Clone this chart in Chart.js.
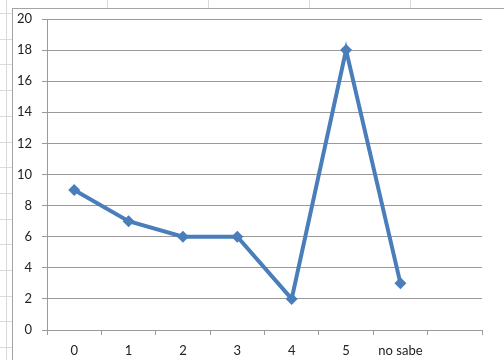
<!DOCTYPE html>
<html>
<head>
<meta charset="utf-8">
<script src="https://cdn.jsdelivr.net/npm/chart.js@4/dist/chart.umd.min.js"></script>
<style>
  html, body { margin: 0; padding: 0; width: 504px; height: 360px; overflow: hidden; }
  body {
    background-color: #fff;
    background-image:
      repeating-linear-gradient(to right, transparent 0, transparent 6px, #dadada 6px, #dadada 7px, transparent 7px, transparent 101px),
      repeating-linear-gradient(to bottom, transparent 0, transparent 13px, #dadada 13px, #dadada 14px, transparent 14px, transparent 25.7px);
    position: relative;
  }
  #frame {
    position: absolute; left: 12px; top: 8px;
    width: 520px; height: 380px;
    border: 1px solid #a3a3a3;
    background: #fff;
  }
  #wrap { position: absolute; left: 0; top: 0; width: 491px; height: 351px; }
</style>
</head>
<body>
<div id="frame"><div id="wrap"><canvas id="myChart"></canvas></div></div>
<script>
// chart values
const categories = ["0", "1", "2", "3", "4", "5", "no sabe", ""];
const values = [9, 7, 6, 6, 2, 18, 3, null];
const yTicks = [0, 2, 4, 6, 8, 10, 12, 14, 16, 18, 20];

const lineBlue = "#4a7ebb";
const axisGray = "#9a9a9a";

const ctx = document.getElementById("myChart");
const myLineChart = new Chart(ctx, {
  type: "line",
  data: {
    labels: categories,
    datasets: [
      {
        data: values,
        borderColor: lineBlue,
        backgroundColor: lineBlue,
        borderWidth: 4,
        pointStyle: "rectRot",
        pointRadius: 6,
        pointBorderWidth: 0,
        tension: 0,
        fill: false,
      },
    ],
  },
  options: {
    responsive: true,
    maintainAspectRatio: false,
    animation: false,
    layout: { padding: { top: 10, right: 22, left: 0, bottom: 0 } },
    plugins: { legend: { display: false }, tooltip: { enabled: false } },
    scales: {
      x: {
        type: "category",
        offset: true,
        grid: {
          offset: true,
          drawOnChartArea: false,
          color: axisGray,
          tickLength: 5,
        },
        border: { color: axisGray },
        ticks: {
          color: "#222",
          font: { family: "Lato", size: 13 },
          padding: 8,
          maxRotation: 0,
          autoSkip: false,
        },
        afterFit: (s) => { s.height = 30; s.paddingLeft = 0; s.paddingRight = 0; },
      },
      y: {
        min: 0,
        max: 20,
        afterBuildTicks: (s) => { s.ticks = yTicks.map((v) => ({ value: v })); },
        grid: { color: axisGray, tickLength: 5 },
        border: { color: axisGray },
        ticks: {
          color: "#222",
          font: { family: "Lato", size: 13 },
          padding: 10,
        },
        afterFit: (s) => { s.width = 34; s.paddingTop = 0; s.paddingBottom = 0; },
      },
    },
  },
});
</script>
</body>
</html>
